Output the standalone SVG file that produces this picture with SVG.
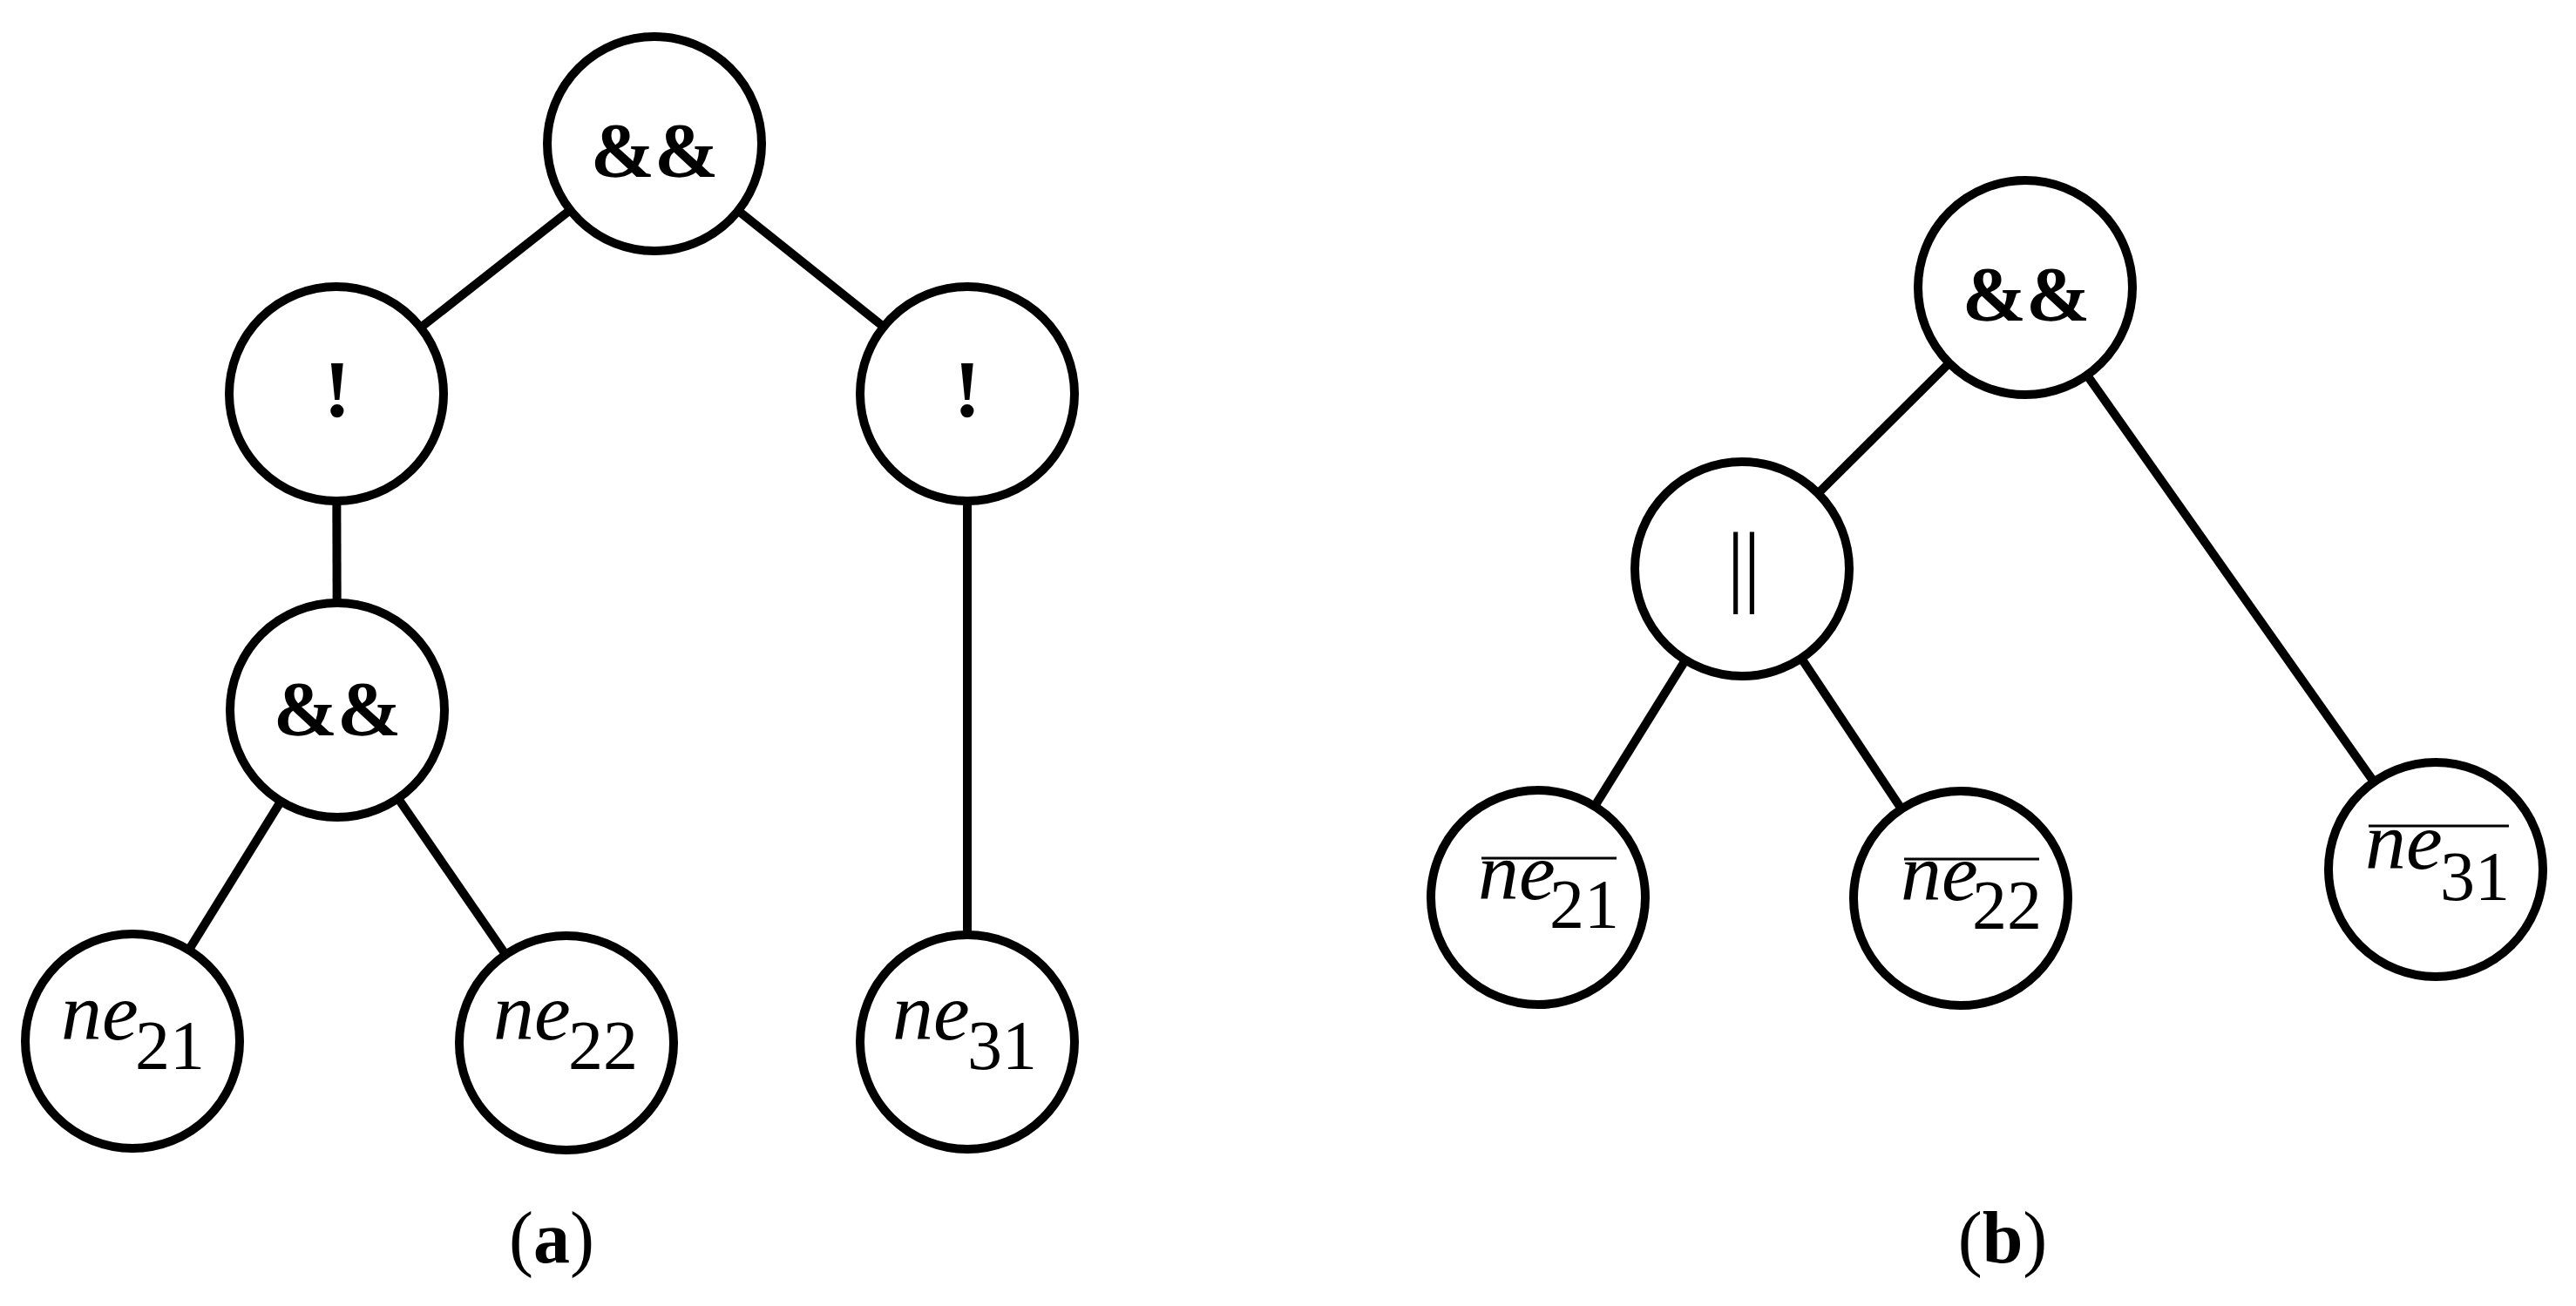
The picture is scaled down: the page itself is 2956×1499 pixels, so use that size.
<svg xmlns="http://www.w3.org/2000/svg" width="2956" height="1499" viewBox="0 0 2956 1499">
<style>
.node{fill:#fff;stroke:#000;stroke-width:10}
.edge{stroke:#000;stroke-width:10;fill:none}
.op{font-family:"Liberation Serif",serif;font-weight:bold;font-size:88px;text-anchor:middle;fill:#000}
.bang{font-family:"Liberation Serif",serif;font-weight:bold;font-size:94px;text-anchor:middle;fill:#000}
.var{font-family:"Liberation Serif",serif;font-style:italic;font-size:94px;fill:#000}
.sub{font-family:"Liberation Serif",serif;font-size:80px;fill:#000}
.or{font-family:"Liberation Serif",serif;font-size:104px;text-anchor:middle;fill:#000;letter-spacing:-2px}
.bar{stroke:#000;stroke-width:3}
.cap{font-family:"Liberation Serif",serif;font-size:84px;text-anchor:middle;fill:#000}
</style>
<rect width="2956" height="1499" fill="#fff"/>
<g id="connectors">
<line class="edge" x1="751" y1="165" x2="386" y2="452"/>
<line class="edge" x1="751" y1="165" x2="1110" y2="452"/>
<line class="edge" x1="386" y1="452" x2="387" y2="815"/>
<line class="edge" x1="387" y1="815" x2="152" y2="1195"/>
<line class="edge" x1="387" y1="815" x2="650" y2="1197"/>
<line class="edge" x1="1110" y1="452" x2="1110" y2="1196"/>
<line class="edge" x1="2324" y1="330" x2="1999" y2="653"/>
<line class="edge" x1="2324" y1="330" x2="2795" y2="998"/>
<line class="edge" x1="1999" y1="653" x2="1765" y2="1030"/>
<line class="edge" x1="1999" y1="653" x2="2250" y2="1031"/>
</g>
<g id="a-and-top">
<circle class="node" cx="751" cy="165" r="123"/>
<text class="op" x="751" y="202">&amp;&amp;</text>
</g>
<g id="a-not-left">
<circle class="node" cx="386" cy="452" r="123"/>
<text class="bang" x="387" y="478">!</text>
</g>
<g id="a-not-right">
<circle class="node" cx="1110" cy="452" r="123"/>
<text class="bang" x="1110" y="478">!</text>
</g>
<g id="a-and-mid">
<circle class="node" cx="387" cy="815" r="123"/>
<text class="op" x="387" y="843">&amp;&amp;</text>
</g>
<g id="a-ne21">
<circle class="node" cx="152" cy="1195" r="123"/>
<text class="var" x="70" y="1193">ne</text>
<text class="sub" x="155" y="1227">21</text>
</g>
<g id="a-ne22">
<circle class="node" cx="650" cy="1197" r="123"/>
<text class="var" x="566" y="1193">ne</text>
<text class="sub" x="652" y="1227">22</text>
</g>
<g id="a-ne31">
<circle class="node" cx="1110" cy="1196" r="123"/>
<text class="var" x="1024" y="1193">ne</text>
<text class="sub" x="1110" y="1227">31</text>
</g>
<g id="b-and-top">
<circle class="node" cx="2324" cy="330" r="123"/>
<text class="op" x="2325" y="367">&amp;&amp;</text>
</g>
<g id="b-or">
<circle class="node" cx="1999" cy="653" r="123"/>
<text class="or" x="2000" y="683">||</text>
</g>
<g id="b-ne21">
<circle class="node" cx="1765" cy="1030" r="123"/>
<line class="bar" x1="1700" y1="985" x2="1855" y2="985"/>
<text class="var" x="1696" y="1032">ne</text>
<text class="sub" x="1778" y="1065">21</text>
</g>
<g id="b-ne22">
<circle class="node" cx="2250" cy="1031" r="123"/>
<line class="bar" x1="2185" y1="986" x2="2340" y2="986"/>
<text class="var" x="2181" y="1033">ne</text>
<text class="sub" x="2263" y="1066">22</text>
</g>
<g id="b-ne31">
<circle class="node" cx="2795" cy="998" r="123"/>
<line class="bar" x1="2718" y1="948" x2="2879" y2="948"/>
<text class="var" x="2714" y="997">ne</text>
<text class="sub" x="2800" y="1033">31</text>
</g>
<g id="captions">
<text class="cap" x="633" y="1449">(<tspan font-weight="bold">a</tspan>)</text>
<text class="cap" x="2298" y="1449">(<tspan font-weight="bold">b</tspan>)</text>
</g>
</svg>
